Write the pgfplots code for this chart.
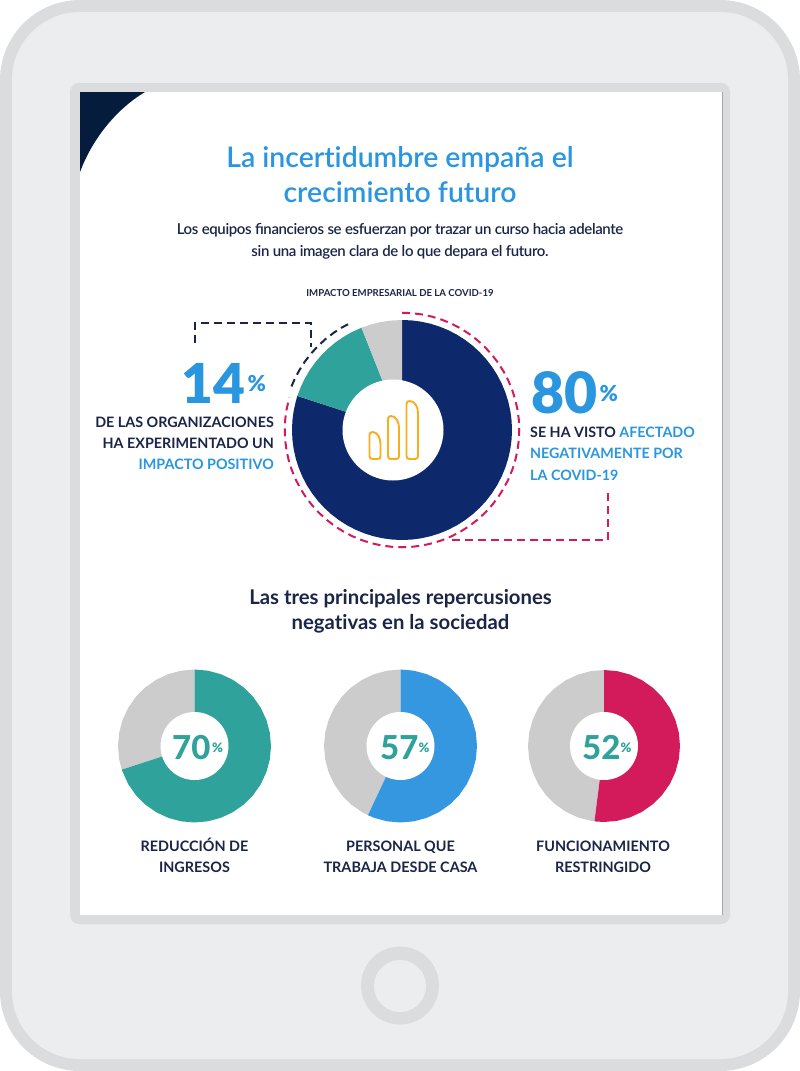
\documentclass[border=0pt]{standalone}
\usepackage{fontspec}
\setmainfont[Ligatures=NoCommon]{Lato}
\newfontfamily\black{Lato Black}
\newfontfamily\heavy{Lato Heavy}
\newfontfamily\semi[Ligatures=NoCommon]{Lato Semibold}
\newfontfamily\semitight[LetterSpace=-2.5]{Lato Semibold}
\usepackage{pgfplots}
\pgfplotsset{compat=1.18}
\usepgfplotslibrary{polar}
\definecolor{rim}{HTML}{DBDCDE}
\definecolor{body}{HTML}{ECEDEF}
\definecolor{corner}{HTML}{061C3D}
\definecolor{inktext}{HTML}{1A2547}
\definecolor{titleblue}{HTML}{2A96E0}
\definecolor{navy}{HTML}{0E296B}
\definecolor{teal2}{HTML}{2FA39B}
\definecolor{slice}{HTML}{CCCCCC}
\definecolor{blue2}{HTML}{3597E0}
\definecolor{crimson}{HTML}{D31A5B}
\definecolor{gold}{HTML}{F9AE1B}
\pgfplotsset{
  pagebox/.style={hide axis,scale only axis,width=800pt,height=1071pt,
    xmin=0,xmax=800,ymin=0,ymax=1071,y dir=reverse,clip=false,at={(0pt,0pt)},anchor=south west},
  donut/.style={hide axis,scale only axis,clip=false,ymin=0,ymax=1,anchor=center},
  slicefill/.style={draw=none,fill=#1},
}
\begin{document}
\begin{tikzpicture}
\useasboundingbox (0pt,0pt) rectangle (800pt,1071pt);
% ---- device background
\begin{axis}[pagebox]
\fill[rim] (0,0) [rounded corners=80pt] rectangle (800,1071);
\fill[body] (12,12) [rounded corners=68pt] rectangle (788,1059);
\fill[rim] (70,83) [rounded corners=9pt] rectangle (730,924);
\fill[white] (80,92) rectangle (722,915);
\draw[color=black!35,line width=1pt] (722,92) -- (722,915);
\fill[corner] (80,92) -- (145,92) .. controls (115,110) and (92,140) .. (80,172) -- cycle;
\fill[rim] (400,985.5) circle[radius=39];
\fill[body] (400,986) circle[radius=26];
\end{axis}
% ---- big donut: 80 / 14 / 6
\begin{polaraxis}[donut,width=220pt,height=220pt,at={(402pt,641pt)}]
\addplot[slicefill=navy] coordinates {(0,0)(90,1)(85,1)(80,1)(75,1)(70,1)(65,1)(60,1)(55,1)(50,1)(45,1)(40,1)(35,1)(30,1)(25,1)(20,1)(15,1)(10,1)(5,1)(0,1)(-5,1)(-10,1)(-15,1)(-20,1)(-25,1)(-30,1)(-35,1)(-40,1)(-45,1)(-50,1)(-55,1)(-60,1)(-65,1)(-70,1)(-75,1)(-80,1)(-85,1)(-90,1)(-95,1)(-100,1)(-105,1)(-110,1)(-115,1)(-120,1)(-125,1)(-130,1)(-135,1)(-140,1)(-145,1)(-150,1)(-155,1)(-160,1)(-165,1)(-170,1)(-175,1)(-180,1)(-185,1)(-190,1)(-195,1)(-198,1)} -- cycle;
\addplot[slicefill=teal2] coordinates {(0,0)(162,1)(157,1)(152,1)(147,1)(142,1)(137,1)(132,1)(127,1)(122,1)(117,1)(111.6,1)} -- cycle;
\addplot[slicefill=slice] coordinates {(0,0)(111.6,1)(106,1)(101,1)(96,1)(90,1)} -- cycle;
% pink dashed arc
\addplot[crimson,line width=2pt,dash pattern=on 8pt off 5pt] coordinates {(90,1.066)(85,1.066)(80,1.066)(75,1.066)(70,1.066)(65,1.066)(60,1.066)(55,1.066)(50,1.066)(45,1.066)(40,1.066)(35,1.066)(30,1.066)(25,1.066)(20,1.066)(15,1.066)(10,1.066)(5,1.066)(0,1.066)(-5,1.066)(-10,1.066)(-15,1.066)(-20,1.066)(-25,1.066)(-30,1.066)(-35,1.066)(-40,1.066)(-45,1.066)(-50,1.066)(-55,1.066)(-60,1.066)(-65,1.066)(-70,1.066)(-75,1.066)(-80,1.066)(-85,1.066)(-90,1.066)(-95,1.066)(-100,1.066)(-105,1.066)(-110,1.066)(-115,1.066)(-120,1.066)(-125,1.066)(-130,1.066)(-135,1.066)(-140,1.066)(-145,1.066)(-150,1.066)(-155,1.066)(-160,1.066)(-165,1.066)(-170,1.066)(-175,1.066)(-180,1.066)(-185,1.066)(-190,1.066)(-196,1.066)};
% navy dashed arc
\addplot[inktext,line width=2pt,dash pattern=on 8pt off 5pt] coordinates {(158.5,1.08)(155,1.08)(150,1.08)(145,1.08)(140,1.08)(135,1.08)(130,1.08)(125,1.08)(120,1.08)(115,1.08)};
\end{polaraxis}
% ---- small donuts
\begin{polaraxis}[donut,width=153pt,height=153pt,at={(194.5pt,325pt)}]
\addplot[slicefill=slice] coordinates {(0,0)(198,1)(190,1)(180,1)(170,1)(160,1)(150,1)(140,1)(130,1)(120,1)(110,1)(100,1)(90,1)} -- cycle;
\addplot[slicefill=teal2] coordinates {(0,0)(90,1)(80,1)(70,1)(60,1)(50,1)(40,1)(30,1)(20,1)(10,1)(0,1)(-10,1)(-20,1)(-30,1)(-40,1)(-50,1)(-60,1)(-70,1)(-80,1)(-90,1)(-100,1)(-110,1)(-120,1)(-130,1)(-140,1)(-150,1)(-162,1)} -- cycle;
\end{polaraxis}
\begin{polaraxis}[donut,width=153pt,height=153pt,at={(400.5pt,325pt)}]
\addplot[slicefill=slice] coordinates {(0,0)(244.8,1)(240,1)(230,1)(220,1)(210,1)(200,1)(190,1)(180,1)(170,1)(160,1)(150,1)(140,1)(130,1)(120,1)(110,1)(100,1)(90,1)} -- cycle;
\addplot[slicefill=blue2] coordinates {(0,0)(90,1)(80,1)(70,1)(60,1)(50,1)(40,1)(30,1)(20,1)(10,1)(0,1)(-10,1)(-20,1)(-30,1)(-40,1)(-50,1)(-60,1)(-70,1)(-80,1)(-90,1)(-100,1)(-110,1)(-115.2,1)} -- cycle;
\end{polaraxis}
\begin{polaraxis}[donut,width=152pt,height=152pt,at={(604pt,325pt)}]
\addplot[slicefill=slice] coordinates {(0,0)(262.8,1)(260,1)(250,1)(240,1)(230,1)(220,1)(210,1)(200,1)(190,1)(180,1)(170,1)(160,1)(150,1)(140,1)(130,1)(120,1)(110,1)(100,1)(90,1)} -- cycle;
\addplot[slicefill=crimson] coordinates {(0,0)(90,1)(80,1)(70,1)(60,1)(50,1)(40,1)(30,1)(20,1)(10,1)(0,1)(-10,1)(-20,1)(-30,1)(-40,1)(-50,1)(-60,1)(-70,1)(-80,1)(-90,1)(-97.2,1)} -- cycle;
\end{polaraxis}
% ---- foreground: holes, icon, text
\begin{axis}[pagebox]
\fill[white] (393,430) circle[radius=50.5];
\fill[white] (194.5,746) circle[radius=34];
\fill[white] (400.5,746) circle[radius=34];
\fill[white] (604,746) circle[radius=34];
% icon
\draw[gold,line width=1.9pt] (369.5,435) .. controls (369.5,433) and (370.5,432) .. (372.5,432) .. controls (377.5,432) and (380.5,438) .. (380.5,444) -- (380.5,456) .. controls (380.5,458) and (379.5,459) .. (377.5,459) -- (372.5,459) .. controls (370.5,459) and (369.5,458) .. (369.5,456) -- cycle;
\draw[gold,line width=1.9pt] (388,419) .. controls (388,417) and (389,416) .. (391,416) .. controls (396,416) and (399,422) .. (399,428) -- (399,456) .. controls (399,458) and (398,459) .. (396,459) -- (391,459) .. controls (389,459) and (388,458) .. (388,456) -- cycle;
\draw[gold,line width=1.9pt] (406.5,404) .. controls (406.5,402) and (407.5,401) .. (409.5,401) .. controls (415,401) and (418,407) .. (418,413) -- (418,456) .. controls (418,458) and (417,459) .. (415,459) -- (409.5,459) .. controls (407.5,459) and (406.5,458) .. (406.5,456) -- cycle;
% brackets
\draw[inktext,line width=2pt,dash pattern=on 8pt off 5pt] (195,343) -- (195,323) -- (311,323) -- (311,347);
\draw[crimson,line width=2pt,dash pattern=on 8pt off 5pt] (608,493) -- (608,540) -- (447,540);
% text
\tikzset{t/.style={inner sep=0pt,anchor=base},l/.style={inner sep=0pt,anchor=base west},r/.style={inner sep=0pt,anchor=base east}}
\node[t,text=titleblue,font=\fontsize{28.4}{28.4}\selectfont\semi] at (400,167) {La incertidumbre empaña el};
\node[t,text=titleblue,font=\fontsize{28.4}{28.4}\selectfont\semi] at (400,202) {crecimiento futuro};
\node[t,text=inktext,font=\fontsize{15}{15}\selectfont\semitight] at (400,234) {Los equipos financieros se esfuerzan por trazar un curso hacia adelante};
\node[t,text=inktext,font=\fontsize{15}{15}\selectfont\semitight] at (400,256) {sin una imagen clara de lo que depara el futuro.};
\node[t,text=inktext,font=\fontsize{9.6}{9.6}\selectfont\bfseries] at (400,296) {IMPACTO EMPRESARIAL DE LA COVID-19};
\node[l,text=titleblue,font=\fontsize{55}{55}\selectfont\black] at (181,403) {14};
\node[l,text=titleblue,font=\fontsize{22}{22}\selectfont\black] at (247.5,391) {\%};
\node[r,text=inktext,font=\fontsize{14.35}{14.35}\selectfont\bfseries] at (274,427) {DE LAS ORGANIZACIONES};
\node[r,text=inktext,font=\fontsize{14.35}{14.35}\selectfont\bfseries] at (274,448) {HA EXPERIMENTADO UN};
\node[r,text=titleblue,font=\fontsize{14.35}{14.35}\selectfont\bfseries] at (274,469) {IMPACTO POSITIVO};
\node[l,text=titleblue,font=\fontsize{57}{57}\selectfont\black] at (531,413) {80};
\node[l,text=titleblue,font=\fontsize{22}{22}\selectfont\black] at (599.5,401) {\%};
\node[l,text=inktext,font=\fontsize{14.3}{14.3}\selectfont\bfseries] at (530,437) {SE HA VISTO \textcolor{titleblue}{AFECTADO}};
\node[l,text=titleblue,font=\fontsize{14.3}{14.3}\selectfont\bfseries] at (530,458) {NEGATIVAMENTE POR};
\node[l,text=titleblue,font=\fontsize{14.3}{14.3}\selectfont\bfseries] at (530,480) {LA COVID-19};
\node[t,text=inktext,font=\fontsize{20.3}{20.3}\selectfont\bfseries] at (400.5,604) {Las tres principales repercusiones};
\node[t,text=inktext,font=\fontsize{20.3}{20.3}\selectfont\bfseries] at (400.5,629) {negativas en la sociedad};
\node[l,text=teal2,font=\fontsize{33}{33}\selectfont\heavy] at (172,759) {70};
\node[l,text=teal2,font=\fontsize{13}{13}\selectfont\black] at (212,752) {\%};
\node[l,text=teal2,font=\fontsize{33}{33}\selectfont\heavy] at (380,759) {57};
\node[l,text=teal2,font=\fontsize{13}{13}\selectfont\black] at (418.5,752) {\%};
\node[l,text=teal2,font=\fontsize{33}{33}\selectfont\heavy] at (582,759) {52};
\node[l,text=teal2,font=\fontsize{13}{13}\selectfont\black] at (620.5,752) {\%};
\node[t,text=inktext,font=\fontsize{14.4}{14.4}\selectfont\bfseries] at (194.5,851) {REDUCCIÓN DE};
\node[t,text=inktext,font=\fontsize{14.4}{14.4}\selectfont\bfseries] at (194.5,872) {INGRESOS};
\node[t,text=inktext,font=\fontsize{14.4}{14.4}\selectfont\bfseries] at (400.5,851) {PERSONAL QUE};
\node[t,text=inktext,font=\fontsize{14.4}{14.4}\selectfont\bfseries] at (400.5,872) {TRABAJA DESDE CASA};
\node[t,text=inktext,font=\fontsize{14.4}{14.4}\selectfont\bfseries] at (603,851) {FUNCIONAMIENTO};
\node[t,text=inktext,font=\fontsize{14.4}{14.4}\selectfont\bfseries] at (603,872) {RESTRINGIDO};
\end{axis}
\end{tikzpicture}
\end{document}
